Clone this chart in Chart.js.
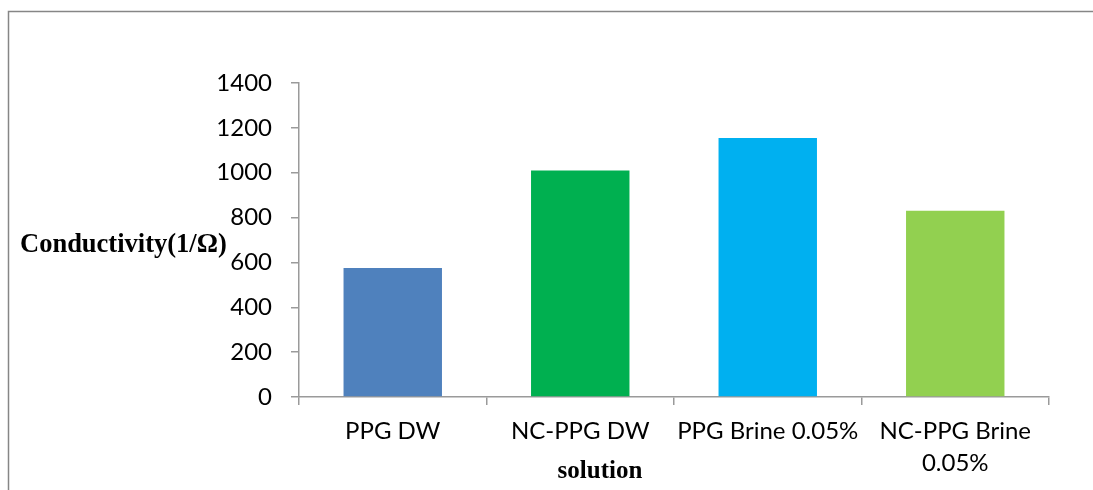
<!DOCTYPE html>
<html>
<head>
<meta charset="utf-8">
<script src="https://cdn.jsdelivr.net/npm/chart.js@4.4.1/dist/chart.umd.min.js"></script>
<style>
  html, body { margin: 0; padding: 0; background: #ffffff; }
  #wrap { position: relative; width: 1093px; height: 490px; }
</style>
</head>
<body>
<div id="wrap"><canvas id="chart" width="1093" height="490"></canvas></div>
<script>
// Conductivity of the gel solutions
const categories = ['PPG DW', 'NC-PPG DW', 'PPG Brine 0.05%', ['NC-PPG Brine', '0.05%']];
const conductivity = [575, 1010, 1155, 830];
const barColors = ['#4F81BD', '#00B050', '#00B0F0', '#92D050'];
const yTicks = [0, 200, 400, 600, 800, 1000, 1200, 1400];

const axisGray = '#9a9a9a';
const tickFont = { family: 'Lato, "Open Sans", sans-serif', size: 24 };

// Outer frame plus the free-standing axis titles
const decorations = {
  id: 'decorations',
  beforeDraw(chart) {
    const ctx = chart.ctx;
    ctx.save();
    ctx.strokeStyle = '#868686';
    ctx.lineWidth = 1.5;
    ctx.beginPath();
    ctx.moveTo(8.5, 490);
    ctx.lineTo(8.5, 11.5);
    ctx.lineTo(1093, 11.5);
    ctx.stroke();
    ctx.restore();
  },
  afterDraw(chart) {
    const ctx = chart.ctx;
    ctx.save();
    ctx.fillStyle = '#000000';
    ctx.textBaseline = 'middle';
    ctx.font = 'bold 26.5px "Liberation Serif", "Times New Roman", serif';
    ctx.textAlign = 'left';
    ctx.fillText('Conductivity(1/\u03A9)', 20, 245);
    ctx.font = 'bold 25px "Liberation Serif", "Times New Roman", serif';
    ctx.textAlign = 'center';
    ctx.fillText('solution', 600, 472);
    ctx.restore();
  }
};

new Chart(document.getElementById('chart'), {
  type: 'bar',
  data: {
    labels: categories,
    datasets: [{
      data: conductivity,
      backgroundColor: barColors,
      borderWidth: 0,
      categoryPercentage: 1.0,
      barPercentage: 0.525
    }]
  },
  options: {
    responsive: false,
    animation: false,
    events: [],
    layout: { padding: { left: 0, top: 83, right: 44, bottom: 0 } },
    plugins: {
      legend: { display: false },
      tooltip: { enabled: false },
      title: { display: false }
    },
    scales: {
      x: {
        offset: true,
        grid: {
          display: true,
          offset: true,
          drawOnChartArea: false,
          drawTicks: true,
          tickLength: 8,
          color: axisGray,
          lineWidth: 1.5
        },
        border: { display: true, color: axisGray, width: 1.5 },
        ticks: {
          color: '#000000',
          font: Object.assign({}, tickFont, { lineHeight: 1.33 }),
          padding: 10,
          maxRotation: 0,
          autoSkip: false
        },
        afterFit(scale) { scale.height = 93; }
      },
      y: {
        min: 0,
        max: 1400,
        afterBuildTicks(scale) { scale.ticks = yTicks.map(v => ({ value: v })); },
        grid: {
          display: true,
          drawOnChartArea: false,
          drawTicks: true,
          tickLength: 8,
          color: axisGray,
          lineWidth: 1.5
        },
        border: { display: true, color: axisGray, width: 1.5 },
        ticks: {
          color: '#000000',
          font: tickFont,
          padding: 19,
          callback: (value) => String(value)
        },
        afterFit(scale) { scale.width = 299; }
      }
    }
  },
  plugins: [decorations]
});
</script>
</body>
</html>
